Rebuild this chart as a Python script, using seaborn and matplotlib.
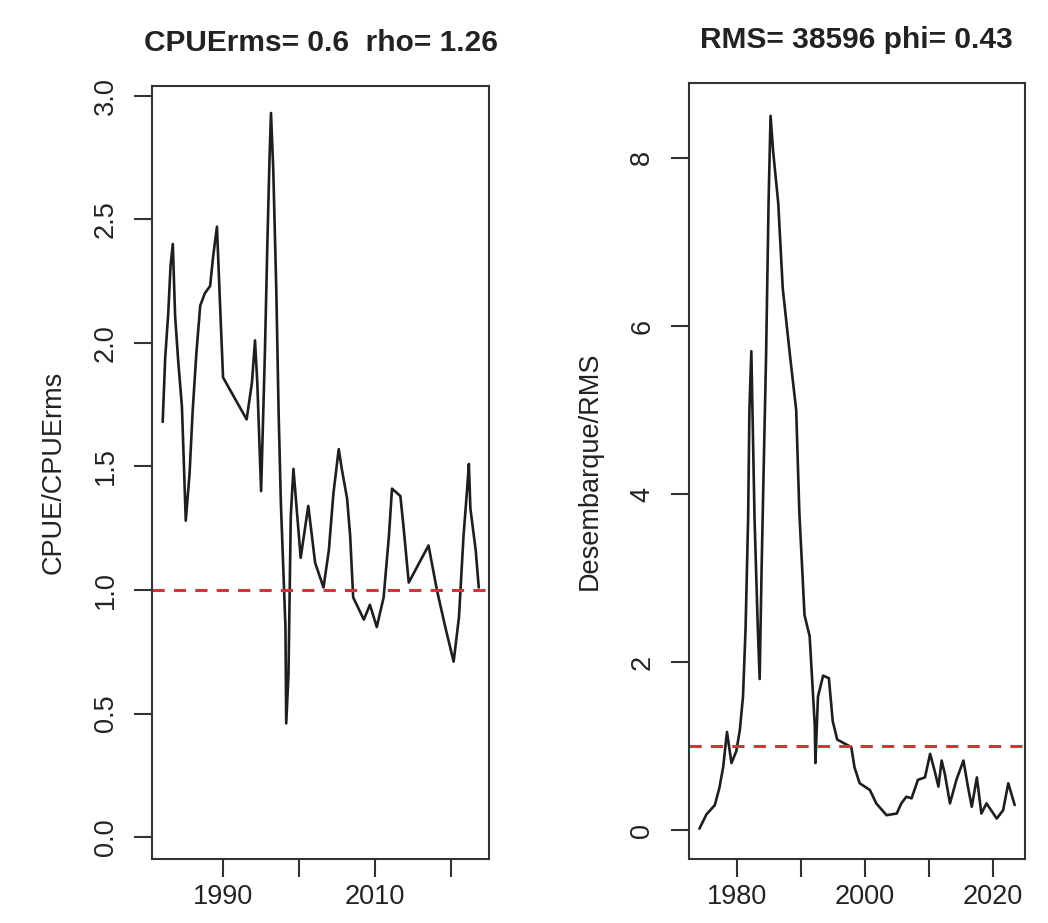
import matplotlib
matplotlib.use("Agg")
import matplotlib.pyplot as plt
import pandas as pd
import seaborn as sns

# CPUE / CPUErms series (left panel)
cpue_year = [1982.07, 1982.4, 1982.8, 1983.1, 1983.4, 1983.7, 1984.1, 1984.6, 1984.8, 1985.1,
             1985.6, 1986.0, 1986.5, 1987.0, 1987.6, 1988.3, 1988.7, 1989.2, 1989.6, 1990.0,
             1993.1, 1993.8, 1994.2, 1994.5, 1995.0, 1995.5, 1995.8, 1996.1, 1996.3, 1996.6,
             1997.0, 1997.3, 1997.6, 1997.9, 1998.2, 1998.3, 1998.6, 1998.9, 1999.25, 2000.2,
             2001.2, 2002.1, 2003.2, 2003.9, 2004.5, 2005.2, 2005.6, 2006.3, 2006.7, 2007.1,
             2008.5, 2009.3, 2010.2, 2011.1, 2011.8, 2012.2, 2013.3, 2013.7, 2014.4, 2017.0,
             2018.1, 2019.2, 2020.3, 2021.0, 2021.6, 2022.1, 2022.3, 2022.5, 2023.2, 2023.6]
cpue_val = [1.68, 1.94, 2.12, 2.31, 2.40, 2.11, 1.93, 1.74, 1.56, 1.28,
            1.47, 1.72, 1.96, 2.15, 2.20, 2.23, 2.35, 2.47, 2.16, 1.86,
            1.69, 1.84, 2.01, 1.84, 1.40, 1.96, 2.37, 2.74, 2.93, 2.70,
            2.21, 1.72, 1.35, 1.10, 0.85, 0.46, 0.66, 1.30, 1.49, 1.13,
            1.34, 1.11, 1.01, 1.16, 1.39, 1.57, 1.49, 1.37, 1.22, 0.97,
            0.88, 0.94, 0.85, 0.97, 1.22, 1.41, 1.38, 1.26, 1.03, 1.18,
            1.00, 0.85, 0.71, 0.89, 1.22, 1.42, 1.51, 1.33, 1.16, 1.01]

# Desembarque / RMS series (right panel)
land_year = [1974.2, 1975.3, 1976.6, 1977.3, 1977.9, 1978.5, 1979.2, 1979.95, 1980.5, 1981.0,
             1981.4, 1981.8, 1982.0, 1982.3, 1982.8, 1983.3, 1983.6, 1983.9, 1984.2, 1984.6,
             1985.0, 1985.3, 1985.7, 1986.5, 1987.2, 1988.3, 1989.3, 1989.8, 1990.6, 1991.4,
             1992.2, 1992.3, 1992.7, 1993.5, 1994.4, 1995.0, 1995.7, 1996.9, 1997.9, 1998.4,
             1999.2, 2000.8, 2001.8, 2003.4, 2005.0, 2005.7, 2006.5, 2007.3, 2008.3, 2009.4,
             2010.2, 2010.9, 2011.5, 2012.0, 2012.5, 2013.3, 2014.3, 2015.4, 2016.1, 2016.7,
             2017.5, 2018.2, 2019.0, 2020.6, 2021.6, 2022.4, 2023.4]
land_val = [0.02, 0.19, 0.30, 0.50, 0.75, 1.17, 0.80, 0.94, 1.19, 1.59,
            2.40, 3.71, 5.00, 5.70, 3.71, 2.43, 1.80, 3.10, 4.21, 5.64,
            7.51, 8.50, 8.08, 7.46, 6.45, 5.67, 5.00, 3.77, 2.56, 2.31,
            1.25, 0.80, 1.59, 1.84, 1.81, 1.30, 1.08, 1.03, 0.99, 0.75,
            0.56, 0.48, 0.32, 0.18, 0.20, 0.32, 0.40, 0.38, 0.60, 0.63,
            0.91, 0.71, 0.52, 0.83, 0.67, 0.32, 0.60, 0.83, 0.52, 0.28,
            0.63, 0.20, 0.32, 0.14, 0.24, 0.56, 0.30]

left_title = "CPUErms= 0.6  rho= 1.26"
right_title = "RMS= 38596 phi= 0.43"

sns.set_style("ticks")
plt.rcParams['font.family'] = ['Liberation Sans', 'DejaVu Sans']

df_cpue = pd.DataFrame({"year": cpue_year, "value": cpue_val})
df_land = pd.DataFrame({"year": land_year, "value": land_val})

fig = plt.figure(figsize=(10.48, 9.23), dpi=100)
ax1 = fig.add_axes([0.145, 0.069, 0.322, 0.838])
ax2 = fig.add_axes([0.657, 0.069, 0.321, 0.841])

text_col = "#222222"
line_col = "#1e1e1e"
ref_col = "#d0353a"

sns.lineplot(data=df_cpue, x="year", y="value", ax=ax1, color=line_col,
             linewidth=1.9, estimator=None, sort=False)
ax1.axhline(1.0, color=ref_col, linestyle=(0, (4, 3)), linewidth=2.2)
ax1.set_xlim(1980.66, 2025.0)
ax1.set_ylim(-0.09, 3.04)
ax1.set_xticks([1990, 2000, 2010, 2020])
ax1.set_xticklabels(["1990", "", "2010", ""])
ax1.set_yticks([0.0, 0.5, 1.0, 1.5, 2.0, 2.5, 3.0])
ax1.set_yticklabels(["0.0", "0.5", "1.0", "1.5", "2.0", "2.5", "3.0"],
                    rotation=90, va="center")
ax1.set_ylabel("CPUE/CPUErms", fontsize=19.5, color=text_col, labelpad=19)
ax1.set_xlabel("")
ax1.set_title(left_title, fontsize=21.5, fontweight="bold", pad=25, color=text_col)

sns.lineplot(data=df_land, x="year", y="value", ax=ax2, color=line_col,
             linewidth=1.9, estimator=None, sort=False)
ax2.axhline(1.0, color=ref_col, linestyle=(0, (4, 3)), linewidth=2.2)
ax2.set_xlim(1972.5, 2025.0)
ax2.set_ylim(-0.345, 8.89)
ax2.set_xticks([1980, 1990, 2000, 2010, 2020])
ax2.set_xticklabels(["1980", "", "2000", "", "2020"])
ax2.set_yticks([0, 2, 4, 6, 8])
ax2.set_yticklabels(["0", "2", "4", "6", "8"], rotation=90, va="center")
ax2.set_ylabel("Desembarque/RMS", fontsize=19.5, color=text_col, labelpad=19)
ax2.set_xlabel("")
ax2.set_title(right_title, fontsize=21.5, fontweight="bold", pad=25, color=text_col)

for ax in (ax1, ax2):
    for s in ax.spines.values():
        s.set_visible(True)
        s.set_color("#333333")
        s.set_linewidth(1.5)
    ax.tick_params(axis="both", length=13, width=1.5, color="#333333",
                   labelsize=19.5, labelcolor=text_col)
    ax.tick_params(axis="x", pad=5)
    ax.tick_params(axis="y", pad=11)
    ax.grid(False)

fig.savefig("out.png", dpi=100, facecolor="white")
